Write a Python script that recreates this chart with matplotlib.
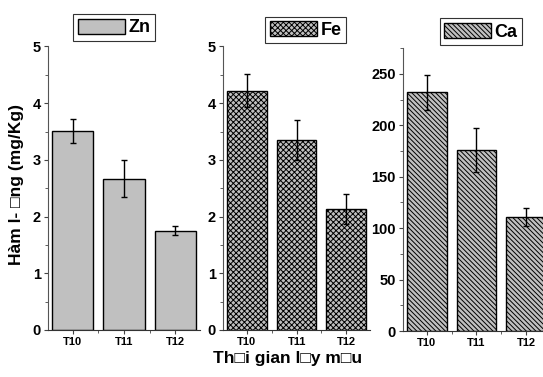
import numpy as np
import matplotlib
matplotlib.use('Agg')
import matplotlib.pyplot as plt
from matplotlib.ticker import MultipleLocator

plt.rcParams['font.family'] = ['Liberation Sans', 'DejaVu Sans']
plt.rcParams['font.weight'] = 'bold'
plt.rcParams['hatch.linewidth'] = 0.7

# data
months = ['T10', 'T11', 'T12']
zn = [3.51, 2.67, 1.75]
zn_err = [0.21, 0.33, 0.08]
fe = [4.22, 3.35, 2.13]
fe_err = [0.29, 0.35, 0.26]
ca = [232, 176, 111]
ca_err = [17, 21, 9]

panels = [
    # name, values, errors, hatch, ylim, major, minor, axes rect, legend anchor
    ('Zn', zn, zn_err, None, 5, 1, 0.5, [0.0884, 0.1247, 0.280, 0.752], (0.434, 1.067)),
    ('Fe', fe, fe_err, 'xxxxxx', 5, 1, 0.5, [0.4107, 0.1247, 0.271, 0.752], (0.561, 1.058)),
    ('Ca', ca, ca_err, '\\' * 7, 275, 50, 25, [0.742, 0.1220, 0.271, 0.750], (0.53, 1.058)),
]

fig = plt.figure(figsize=(5.43, 3.77), dpi=100)
x = np.arange(len(months))

for name, vals, errs, hatch, ytop, major, minor, rect, anchor in panels:
    ax = fig.add_axes(rect)
    ax.bar(x, vals, width=0.8, color='#c0c0c0', edgecolor='black',
           linewidth=1.0, hatch=hatch, label=name, zorder=2)
    ax.errorbar(x, vals, yerr=errs, fmt='none', ecolor='black',
                elinewidth=1.0, capsize=2, capthick=1.0, zorder=3)
    ax.set_xlim(-0.48, 2.48)
    ax.set_ylim(0, ytop)
    ax.set_xticks(x)
    ax.set_xticklabels(months, fontsize=8, fontweight='bold')
    ax.set_xticks([0.5, 1.5], minor=True)
    ax.yaxis.set_major_locator(MultipleLocator(major))
    ax.yaxis.set_minor_locator(MultipleLocator(minor))
    for lab in ax.get_yticklabels():
        lab.set_fontweight('bold')
        lab.set_fontsize(10.5)
    ax.tick_params(axis='both', which='major', length=3, width=0.8, color='#444444', pad=2)
    ax.tick_params(axis='both', which='minor', length=2, width=0.6, color='#444444')
    ax.spines['top'].set_visible(False)
    ax.spines['right'].set_visible(False)
    ax.spines['left'].set_color('#555555')
    ax.spines['bottom'].set_color('#333333')
    leg = ax.legend(loc='center', bbox_to_anchor=anchor, fancybox=False,
                    framealpha=1, edgecolor='#333333', handlelength=2.6,
                    handleheight=0.9, handletextpad=0.2, borderpad=0.25,
                    borderaxespad=0, prop={'weight': 'bold', 'size': 13})
    leg.get_frame().set_linewidth(0.8)

fig.text(0.03, 0.51, 'Hàm l- \u25a1ng (mg/Kg)', rotation=90, ha='center', va='center',
         fontsize=12.5, fontweight='bold')
fig.text(0.53, 0.05, 'Th\u25a1i gian l\u25a1y m\u25a1u', ha='center', va='center',
         fontsize=12.5, fontweight='bold')

fig.savefig('out.png', dpi=100)
